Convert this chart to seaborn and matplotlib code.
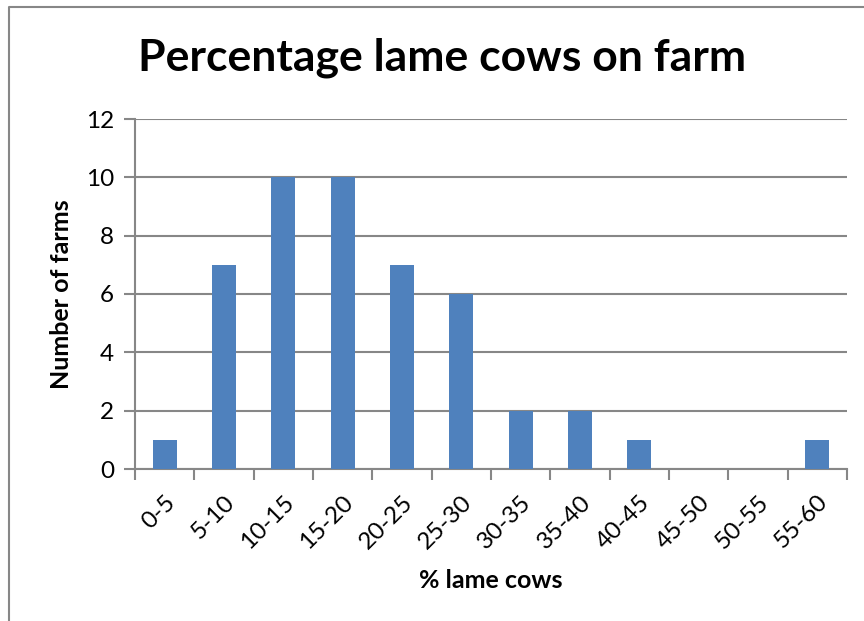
import matplotlib
matplotlib.use("Agg")
import matplotlib.pyplot as plt
from matplotlib.lines import Line2D
import seaborn as sns
import pandas as pd

# Histogram of lameness prevalence across farms
categories = ["0-5", "5-10", "10-15", "15-20", "20-25", "25-30",
              "30-35", "35-40", "40-45", "45-50", "50-55", "55-60"]
farm_counts = [1, 7, 10, 10, 7, 6, 2, 2, 1, 0, 0, 1]
y_ticks = [0, 2, 4, 6, 8, 10, 12]

title_text = "Percentage lame cows on farm"
x_label = "% lame cows"
y_label = "Number of farms"

sns.set_theme(style="white")
plt.rcParams["font.family"] = ["Lato", "DejaVu Sans"]
plt.rcParams["text.color"] = "black"
plt.rcParams["axes.labelcolor"] = "black"
plt.rcParams["xtick.labelcolor"] = "black"
plt.rcParams["ytick.labelcolor"] = "black"

bar_color = "#4F81BD"
axis_gray = "#878787"

df = pd.DataFrame({"range": categories, "farms": farm_counts})

fig = plt.figure(figsize=(8.64, 6.21), dpi=100)
ax = fig.add_axes([135 / 864, 1 - 469 / 621, (847 - 135) / 864, (469 - 119) / 621])

sns.barplot(data=df, x="range", y="farms", color=bar_color, width=0.4,
            saturation=1, linewidth=0, ax=ax, zorder=3)

ax.set_xlim(-0.5, len(categories) - 0.5)
ax.set_ylim(0, 12)
ax.set_yticks(y_ticks)
ax.set_yticklabels([str(t) for t in y_ticks], fontsize=17.5, color="black")

# category labels on major ticks; tick marks on category boundaries
ax.set_xticks(range(len(categories)))
ax.set_xticklabels(categories, rotation=45, ha="right", rotation_mode="anchor",
                   fontsize=17.5, color="black")
ax.set_xticks([i - 0.5 for i in range(len(categories) + 1)], minor=True)
ax.tick_params(axis="x", which="major", length=0, pad=16)
ax.tick_params(axis="x", which="minor", length=8, width=1.5, color=axis_gray,
               direction="out", bottom=True)
ax.tick_params(axis="y", which="major", length=8, width=1.5, color=axis_gray,
               direction="out", left=True, pad=7)

ax.yaxis.grid(True, color=axis_gray, linewidth=1.5, zorder=0)
ax.xaxis.grid(False)

for side in ["top", "right"]:
    ax.spines[side].set_visible(False)
for side in ["left", "bottom"]:
    ax.spines[side].set_color(axis_gray)
    ax.spines[side].set_linewidth(1.5)

ax.set_xlabel(x_label, fontsize=18, fontweight="bold", labelpad=12, color="black")
ax.set_ylabel(y_label, fontsize=18, fontweight="bold", labelpad=9, color="black")

fig.text(442 / 864, 1 - 58 / 621, title_text, fontsize=32, fontweight="bold",
         ha="center", va="center", color="black")

# outer chart frame (left and top edges)
bx, by = 9 / 864, 1 - 7 / 621
fig.add_artist(Line2D([bx, bx, 1.0], [0.0, by, by], transform=fig.transFigure,
                      color=axis_gray, linewidth=1.5))

fig.savefig("out.png", dpi=100, facecolor="white")
